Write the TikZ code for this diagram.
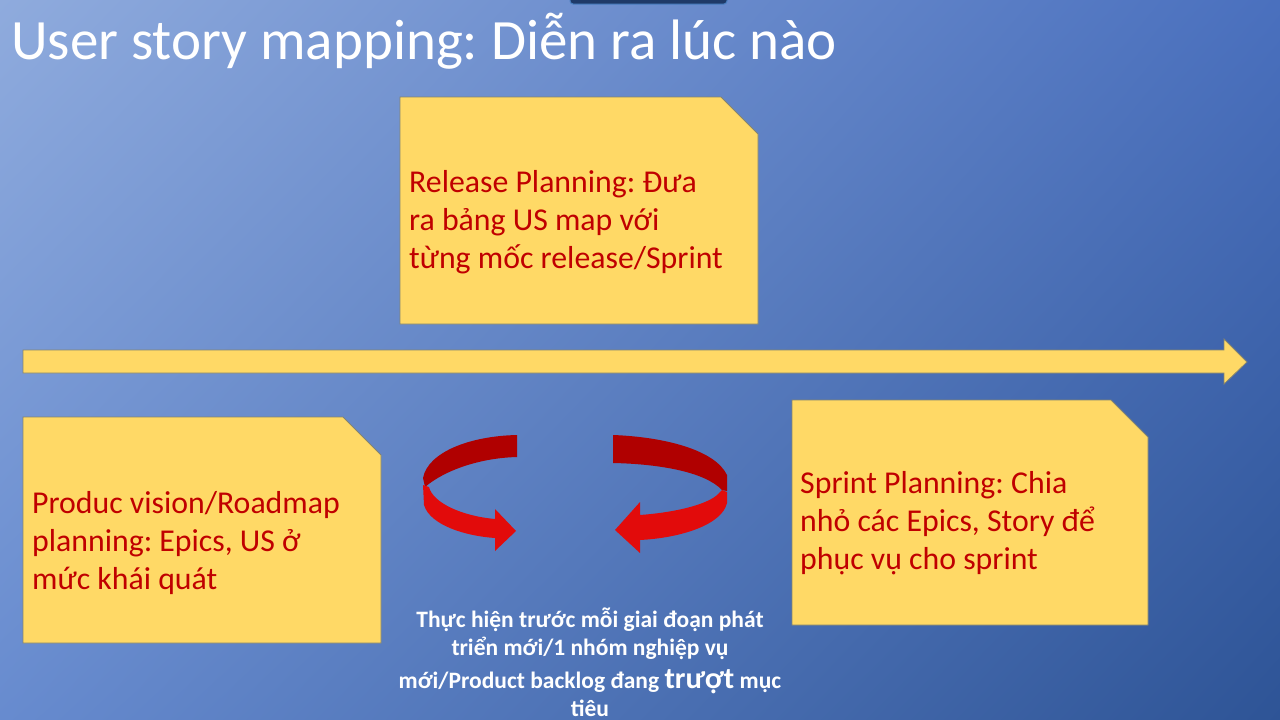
\documentclass[tikz,border=0pt]{standalone}
\usepackage{fontspec}
\setmainfont{Carlito}
\usetikzlibrary{shadings}
\frenchspacing
\definecolor{bgTL}{HTML}{8FABDD}
\definecolor{bgTR}{HTML}{4A70BE}
\definecolor{bgBL}{HTML}{678BCF}
\definecolor{bgBR}{HTML}{2E5496}
\definecolor{noteY}{HTML}{FFD966}
\definecolor{noteB}{HTML}{85856F}
\definecolor{txtRed}{HTML}{C00000}
\definecolor{ribDark}{HTML}{B00000}
\definecolor{ribBright}{HTML}{E20B0B}
\definecolor{tabFill}{HTML}{1F3A68}
\definecolor{tabEdge}{HTML}{4A7FC0}
\begin{document}
\begin{tikzpicture}[x=1pt,y=-1pt,
  note/.style={fill=noteY, draw=noteB, line width=0.8pt, line join=miter},
  ntext/.style={anchor=base west, inner sep=0pt, align=left, text=txtRed, font=\frenchspacing\fontsize{31.8}{38}\selectfont},
  btext/.style={anchor=base, inner sep=0pt, text=white, font=\frenchspacing\bfseries\fontsize{23.5}{26}\selectfont}]
\useasboundingbox (0,0) rectangle (1280,720);
\shade[upper left=bgTL, upper right=bgTR, lower left=bgBL, lower right=bgBR] (0,0) rectangle (1280,720);
% top tab
\draw[fill=tabFill, draw=tabEdge, line width=1pt, rounded corners=3pt] (570,-6) rectangle (727,4);
% title
\node[anchor=base west, inner sep=0pt, text=white, font=\frenchspacing\fontsize{57}{60}\selectfont] (title) at (11,59) {User story mapping: Diễn ra lúc nào};
% timeline arrow
\draw[note] (23,350) -- (1224,350) -- (1224,339) -- (1247,362) -- (1224,384) -- (1224,373) -- (23,373) -- cycle;
% notes
\draw[note] (400,97) -- (721,97) -- (758,134) -- (758,324) -- (400,324) -- cycle;
\draw[note] (23,417) -- (343,417) -- (381,455) -- (381,643) -- (23,643) -- cycle;
\draw[note] (792,400) -- (1111,400) -- (1148,437) -- (1148,625) -- (792,625) -- cycle;
\node[ntext] (rel) at (409,268) {Release Planning: Đưa\\ra bảng US map với\\từng mốc release/Sprint};
\node[ntext] (prod) at (32,589) {Produc vision/Roadmap\\planning: Epics, US ở\\mức khái quát};
\node[ntext] (spr) at (800,569) {Sprint Planning: Chia\\nhỏ các Epics, Story để\\phục vụ cho sprint};
% left ribbon arrow
\fill[ribDark] (517,435) .. controls (470,436) and (428,452) .. (423,478) -- (425,487) .. controls (445,470) and (480,458) .. (517,457) -- cycle;
\fill[ribBright] (423,485) -- (424,505) .. controls (430,525) and (465,536) .. (495,538) -- (495,551) -- (516,531) -- (495,509) -- (495,519) .. controls (462,516) and (433,503) .. (429,487) -- cycle;
% right ribbon arrow
\fill[ribDark] (613,435) -- (613,463) .. controls (660,464) and (705,472) .. (722,490) -- (727,491) -- (727,475) .. controls (715,450) and (665,437) .. (613,435) -- cycle;
\fill[ribBright] (722,490) -- (727,492) -- (727,503) .. controls (722,525) and (680,538) .. (640,540) -- (640,553) -- (615,530) -- (640,502) -- (640,515) .. controls (680,512) and (712,503) .. (720,492) -- cycle;
% bottom text
\node[btext] (b1) at (590,627) {Thực hiện trước mỗi giai đoạn phát};
\node[btext] (b2) at (590,655) {triển mới/1 nhóm nghiệp vụ};
\node[btext] (b3) at (590,688) {mới/Product backlog đang {\fontsize{30}{32}\selectfont trượt} mục};
\node[btext] (b4) at (590,716) {tiêu};
\end{tikzpicture}
\end{document}
